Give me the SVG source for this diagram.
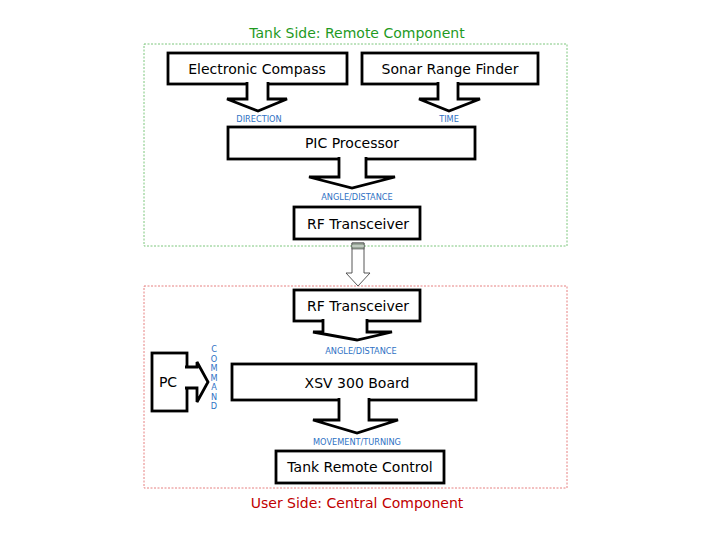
<svg xmlns="http://www.w3.org/2000/svg" width="720" height="540" viewBox="0 0 720 540">
<style>
.box{fill:#fff;stroke:#000;stroke-width:2.8}
.arr{fill:#fff;stroke:#000;stroke-width:2.8;stroke-linejoin:miter}
.t{font-family:"DejaVu Sans",Verdana,sans-serif;font-size:14px;fill:#000;text-anchor:middle}
.lbl{font-family:"DejaVu Sans",Verdana,sans-serif;font-size:8.2px;fill:#2f72c4;text-anchor:middle}
.title{font-family:"DejaVu Sans",Verdana,sans-serif;font-size:14px;text-anchor:middle}
</style>
<rect width="720" height="540" fill="#fff"/>
<g id="tank-side">
<rect x="144" y="44" width="423" height="202" fill="none" stroke="#5cb85c" stroke-width="0.8" stroke-dasharray="2,1.5"/>
<text class="title" x="357" y="38" fill="#1f9a1f">Tank Side: Remote Component</text>
</g>
<g id="user-side">
<rect x="144" y="286" width="423" height="202" fill="none" stroke="#e06060" stroke-width="0.8" stroke-dasharray="2,1.5"/>
<text class="title" x="357" y="508" fill="#c00000">User Side: Central Component</text>
</g>
<g id="compass"><rect class="box" x="168" y="53" width="179" height="31"/><text class="t" x="257" y="74">Electronic Compass</text></g>
<g id="sonar"><rect class="box" x="362" y="53" width="176" height="31"/><text class="t" x="450" y="74">Sonar Range Finder</text></g>
<g id="pic"><rect class="box" x="228" y="127" width="247" height="32"/><text class="t" x="352" y="148">PIC Processor</text></g>
<g id="rf1"><rect class="box" x="294" y="207" width="126" height="32"/><text class="t" x="358" y="229">RF Transceiver</text></g>
<g id="rf2"><rect class="box" x="294" y="290" width="126" height="31"/><text class="t" x="358" y="311">RF Transceiver</text></g>
<g id="xsv"><rect class="box" x="232" y="364" width="244" height="36"/><text class="t" x="357" y="388">XSV 300 Board</text></g>
<g id="trc"><rect class="box" x="276" y="451" width="168" height="32"/><text class="t" x="360" y="472">Tank Remote Control</text></g>
<g id="pc"><rect class="box" x="152" y="353" width="35" height="58"/><text class="t" x="168" y="387">PC</text></g>
<g id="connectors">
<path class="arr" d="M247,82 V99 H227 L258,111 L287,99 H268 V82"/>
<path class="arr" d="M438,82 V99 H419 L449,111 L480,99 H458 V82"/>
<path class="arr" d="M339,157 V177 H309 L352,188 L395,177 H366 V157"/>
<path class="arr" d="M323,319 V332 H313 L357,340 L392,332 H367 V319"/>
<path class="arr" d="M339,398 V420 H313 L357,433 L398,420 H369 V398"/>
<path class="arr" d="M185,367 H197 V362 L208,382 L197,402 V388 H185"/>
<g id="link">
<path d="M352,243 H364 V273 H370 L358,286 L346,273 H352 Z" fill="#fff" stroke="#444" stroke-width="0.9"/>
<rect x="352" y="243" width="12" height="6" fill="#9aa89a" stroke="#444" stroke-width="0.6"/>
<line x1="352" y1="246" x2="364" y2="246" stroke="#e8f0e8" stroke-width="1"/>
</g>
<text class="lbl" x="259" y="122">DIRECTION</text>
<text class="lbl" x="449" y="122">TIME</text>
<text class="lbl" x="357" y="200">ANGLE/DISTANCE</text>
<text class="lbl" x="361" y="354">ANGLE/DISTANCE</text>
<text class="lbl" x="357" y="445">MOVEMENT/TURNING</text>
<text class="lbl" x="214" y="352">C</text>
<text class="lbl" x="214" y="361.5">O</text>
<text class="lbl" x="214" y="371">M</text>
<text class="lbl" x="214" y="380.5">M</text>
<text class="lbl" x="214" y="390">A</text>
<text class="lbl" x="214" y="399.5">N</text>
<text class="lbl" x="214" y="409">D</text>
</g>
</svg>
